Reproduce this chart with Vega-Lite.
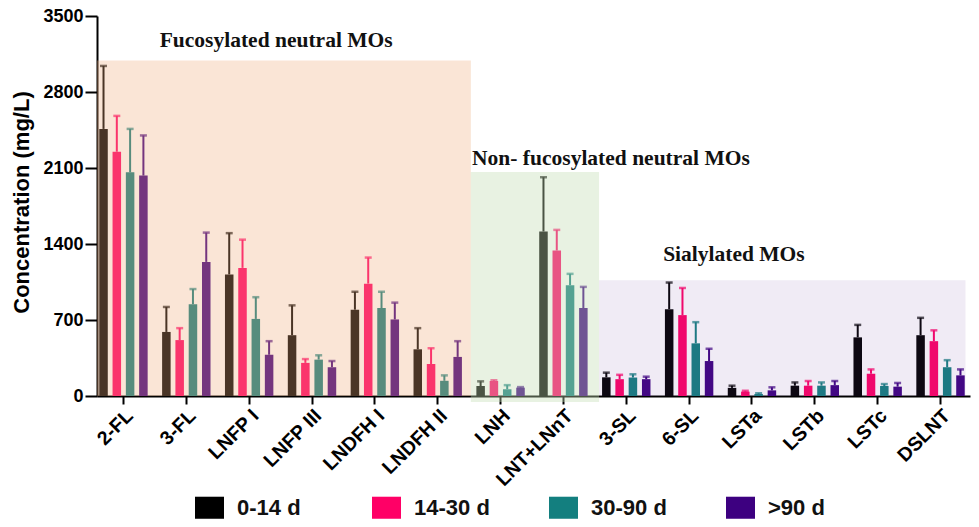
{
  "$schema": "https://vega.github.io/schema/vega-lite/v6.json",
  "width": 873,
  "height": 380,
  "autosize": {"type": "none"},
  "padding": {"left": 97, "top": 16, "right": 9, "bottom": 131},
  "background": "white",
  "config": {"font": "Liberation Sans", "view": {"stroke": null}},
  "datasets": {
    "conc": [
      {"mo": "2-FL", "age": "0-14 d", "mean": 2460, "upper": 3040},
      {"mo": "2-FL", "age": "14-30 d", "mean": 2250, "upper": 2580},
      {"mo": "2-FL", "age": "30-90 d", "mean": 2060, "upper": 2460},
      {"mo": "2-FL", "age": ">90 d", "mean": 2030, "upper": 2400},
      {"mo": "3-FL", "age": "0-14 d", "mean": 590, "upper": 820},
      {"mo": "3-FL", "age": "14-30 d", "mean": 515, "upper": 625},
      {"mo": "3-FL", "age": "30-90 d", "mean": 845, "upper": 985},
      {"mo": "3-FL", "age": ">90 d", "mean": 1235, "upper": 1505},
      {"mo": "LNFP I", "age": "0-14 d", "mean": 1120, "upper": 1500},
      {"mo": "LNFP I", "age": "14-30 d", "mean": 1180, "upper": 1440},
      {"mo": "LNFP I", "age": "30-90 d", "mean": 710, "upper": 910},
      {"mo": "LNFP I", "age": ">90 d", "mean": 380, "upper": 505},
      {"mo": "LNFP III", "age": "0-14 d", "mean": 560, "upper": 835},
      {"mo": "LNFP III", "age": "14-30 d", "mean": 305, "upper": 340},
      {"mo": "LNFP III", "age": "30-90 d", "mean": 335, "upper": 375},
      {"mo": "LNFP III", "age": ">90 d", "mean": 265, "upper": 322},
      {"mo": "LNDFH I", "age": "0-14 d", "mean": 795, "upper": 960},
      {"mo": "LNDFH I", "age": "14-30 d", "mean": 1035, "upper": 1275},
      {"mo": "LNDFH I", "age": "30-90 d", "mean": 810, "upper": 960},
      {"mo": "LNDFH I", "age": ">90 d", "mean": 705, "upper": 860},
      {"mo": "LNDFH II", "age": "0-14 d", "mean": 430, "upper": 625},
      {"mo": "LNDFH II", "age": "14-30 d", "mean": 295, "upper": 440},
      {"mo": "LNDFH II", "age": "30-90 d", "mean": 140, "upper": 190},
      {"mo": "LNDFH II", "age": ">90 d", "mean": 360, "upper": 505},
      {"mo": "LNH", "age": "0-14 d", "mean": 92, "upper": 135},
      {"mo": "LNH", "age": "14-30 d", "mean": 138, "upper": 145},
      {"mo": "LNH", "age": "30-90 d", "mean": 62, "upper": 100},
      {"mo": "LNH", "age": ">90 d", "mean": 77, "upper": 82},
      {"mo": "LNT+LNnT", "age": "0-14 d", "mean": 1515, "upper": 2015},
      {"mo": "LNT+LNnT", "age": "14-30 d", "mean": 1340, "upper": 1530},
      {"mo": "LNT+LNnT", "age": "30-90 d", "mean": 1020, "upper": 1125},
      {"mo": "LNT+LNnT", "age": ">90 d", "mean": 810, "upper": 1005},
      {"mo": "3-SL", "age": "0-14 d", "mean": 172, "upper": 215},
      {"mo": "3-SL", "age": "14-30 d", "mean": 155, "upper": 195},
      {"mo": "3-SL", "age": "30-90 d", "mean": 170, "upper": 200},
      {"mo": "3-SL", "age": ">90 d", "mean": 155, "upper": 178},
      {"mo": "6-SL", "age": "0-14 d", "mean": 800, "upper": 1045},
      {"mo": "6-SL", "age": "14-30 d", "mean": 745, "upper": 995},
      {"mo": "6-SL", "age": "30-90 d", "mean": 485, "upper": 680},
      {"mo": "6-SL", "age": ">90 d", "mean": 322, "upper": 435},
      {"mo": "LSTa", "age": "0-14 d", "mean": 75, "upper": 95},
      {"mo": "LSTa", "age": "14-30 d", "mean": 40, "upper": 48},
      {"mo": "LSTa", "age": "30-90 d", "mean": 18, "upper": 25},
      {"mo": "LSTa", "age": ">90 d", "mean": 52, "upper": 80},
      {"mo": "LSTb", "age": "0-14 d", "mean": 95, "upper": 125},
      {"mo": "LSTb", "age": "14-30 d", "mean": 95, "upper": 138},
      {"mo": "LSTb", "age": "30-90 d", "mean": 95, "upper": 125},
      {"mo": "LSTb", "age": ">90 d", "mean": 100, "upper": 138},
      {"mo": "LSTc", "age": "0-14 d", "mean": 540, "upper": 655},
      {"mo": "LSTc", "age": "14-30 d", "mean": 205, "upper": 245},
      {"mo": "LSTc", "age": "30-90 d", "mean": 92, "upper": 110},
      {"mo": "LSTc", "age": ">90 d", "mean": 86, "upper": 120},
      {"mo": "DSLNT", "age": "0-14 d", "mean": 560, "upper": 720},
      {"mo": "DSLNT", "age": "14-30 d", "mean": 505, "upper": 605},
      {"mo": "DSLNT", "age": "30-90 d", "mean": 265, "upper": 330},
      {"mo": "DSLNT", "age": ">90 d", "mean": 190, "upper": 245}
    ],
    "groups": [
      {"group": "Fucosylated neutral MOs", "from": -0.418, "to": 5.53, "top": 3089, "bottom": 0, "label_x": 0.58, "label_y": 3212},
      {"group": "Non- fucosylated neutral MOs", "from": 5.53, "to": 7.57, "top": 2063, "bottom": -55, "label_x": 5.55, "label_y": 2125},
      {"group": "Sialylated MOs", "from": 7.57, "to": 13.4, "top": 1066, "bottom": 0, "label_x": 8.59, "label_y": 1243}
    ]
  },
  "layer": [
    {
      "data": {"name": "conc"},
      "encoding": {
        "x": {
          "field": "mo", "type": "nominal", "sort": null,
          "scale": {"paddingInner": 0.23, "paddingOuter": 0.06, "align": 0.3},
          "axis": {
            "title": null, "labelAngle": -45, "labelFontSize": 19.5, "labelFontWeight": "bold",
            "labelColor": "#000", "labelFont": "Liberation Sans",
            "domainColor": "#000", "domainWidth": 2, "tickColor": "#000", "tickWidth": 2, "tickSize": 8,
            "labelPadding": 2
          }
        },
        "xOffset": {"field": "age", "type": "nominal", "sort": null, "scale": {"paddingInner": 0.36, "paddingOuter": 0}},
        "color": {
          "field": "age", "type": "nominal", "sort": null,
          "scale": {"domain": ["0-14 d", "14-30 d", "30-90 d", ">90 d"], "range": ["#000000", "#ff0066", "#137f7f", "#3d0080"]},
          "legend": {
            "orient": "none", "legendX": 98, "legendY": 477, "direction": "horizontal", "title": null,
            "symbolType": "M-1,-0.76L1,-0.76L1,0.76L-1,0.76Z", "symbolSize": 841, "symbolStrokeWidth": 0,
            "symbolOpacity": 1, "labelFontSize": 22, "labelFont": "Liberation Sans", "labelFontWeight": "bold",
            "labelColor": "#111", "labelOffset": 13, "columnPadding": 59, "gridAlign": "all", "padding": 0
          }
        }
      },
      "layer": [
        {
          "mark": {"type": "bar"},
          "encoding": {
            "y": {
              "field": "mean", "type": "quantitative",
              "scale": {"domain": [0, 3500], "nice": false, "zero": true},
              "axis": {
                "title": "Concentration (mg/L)", "values": [0, 700, 1400, 2100, 2800, 3500], "format": "d", "grid": false,
                "labelFontSize": 18, "labelFontWeight": "bold", "labelColor": "#000", "labelFont": "Liberation Sans",
                "domainColor": "#000", "domainWidth": 2, "tickColor": "#000", "tickWidth": 2, "tickSize": 12,
                "labelPadding": 2, "titleFontSize": 22, "titleFontWeight": "bold", "titleColor": "#000",
                "titleFont": "Liberation Sans", "titleX": -76, "titleY": 186, "titleAngle": -90,
                "titleBaseline": "middle", "titleAlign": "center"
              }
            }
          }
        },
        {
          "mark": {"type": "rule", "strokeWidth": 2},
          "encoding": {
            "y": {"field": "mean", "type": "quantitative"},
            "y2": {"field": "upper"}
          }
        },
        {
          "mark": {"type": "tick", "thickness": 2.5, "size": 7},
          "encoding": {
            "y": {"field": "upper", "type": "quantitative"}
          }
        }
      ]
    },
    {
      "data": {"name": "groups"},
      "encoding": {
        "x": {"field": "from", "type": "quantitative", "scale": {"domain": [-0.418, 13.472], "nice": false, "zero": false}, "axis": null},
        "x2": {"field": "to"},
        "y": {"field": "top", "type": "quantitative"},
        "y2": {"field": "bottom"}
      },
      "layer": [
        {
          "transform": [{"filter": {"field": "group", "equal": "Fucosylated neutral MOs"}}],
          "mark": {"type": "rect", "fill": "#efab7b", "fillOpacity": 0.31}
        },
        {
          "transform": [{"filter": {"field": "group", "equal": "Non- fucosylated neutral MOs"}}],
          "mark": {"type": "rect", "fill": "#c3ddb3", "fillOpacity": 0.38}
        },
        {
          "transform": [{"filter": {"field": "group", "equal": "Sialylated MOs"}}],
          "mark": {"type": "rect", "fill": "#7649a4", "fillOpacity": 0.11}
        },
        {
          "mark": {"type": "text", "align": "left", "baseline": "alphabetic", "font": "Liberation Serif", "fontWeight": "bold", "fontSize": 21.5, "color": "#111"},
          "encoding": {
            "x": {"field": "label_x", "type": "quantitative"},
            "x2": null,
            "y": {"field": "label_y", "type": "quantitative"},
            "y2": null,
            "text": {"field": "group"}
          }
        }
      ]
    }
  ],
  "resolve": {"scale": {"x": "independent"}}
}
